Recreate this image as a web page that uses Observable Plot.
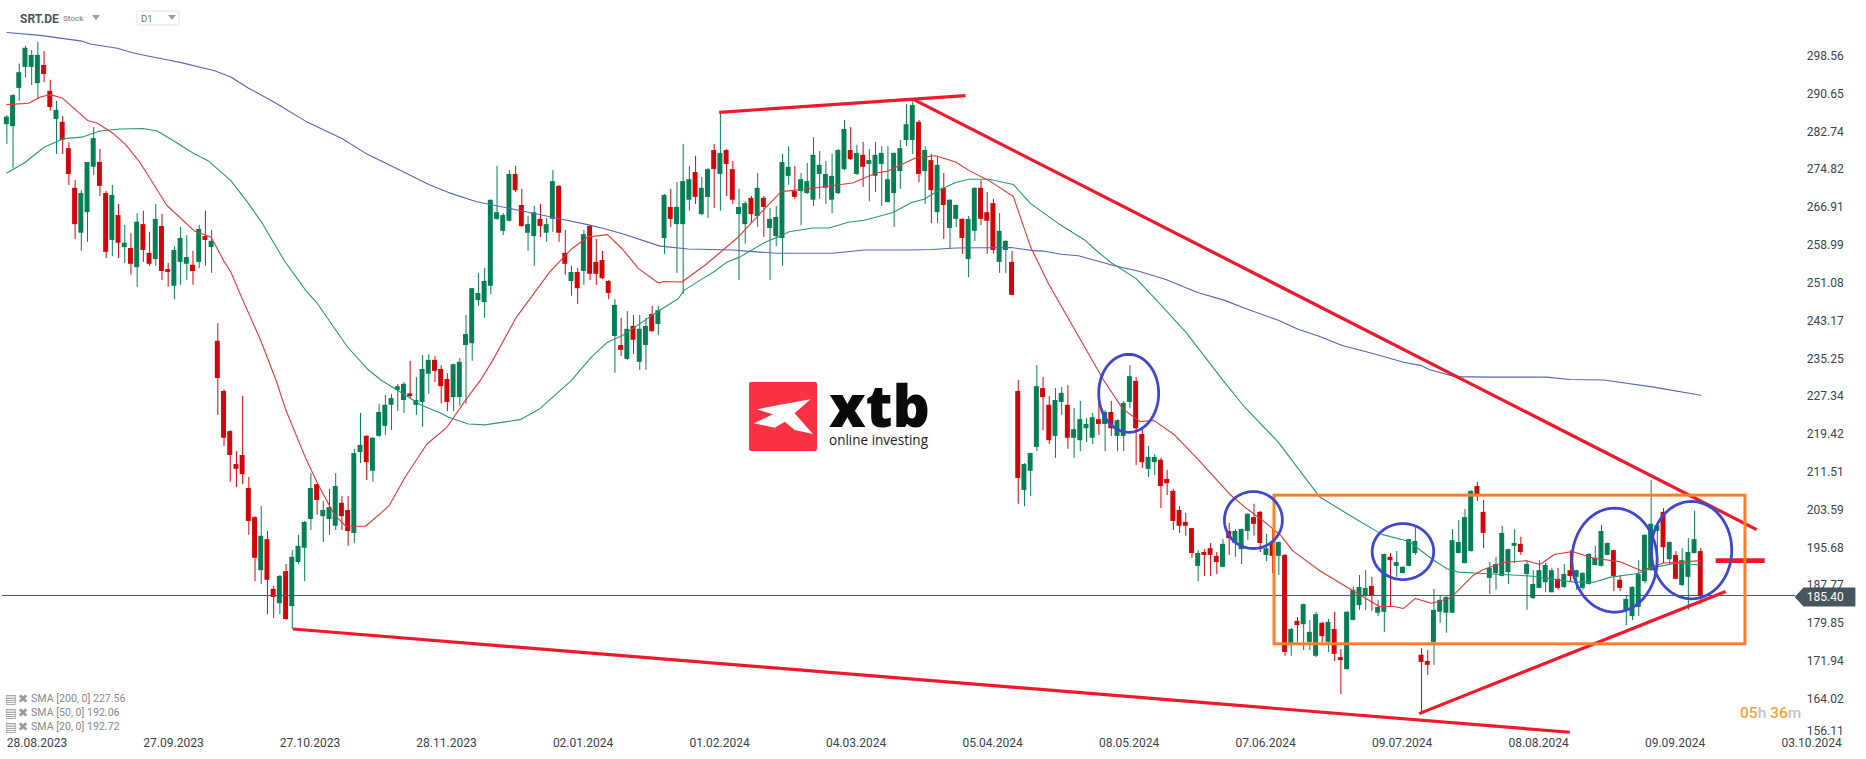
<!DOCTYPE html>
<html><head><meta charset="utf-8">
<script src="https://cdn.jsdelivr.net/npm/d3@7"></script>
<script src="https://cdn.jsdelivr.net/npm/@observablehq/plot@0.6"></script>
<style>
html,body{margin:0;padding:0;background:#fff;width:1866px;height:759px;overflow:hidden;font-family:Roboto,sans-serif}
#chart{position:absolute;left:0;top:0}
.ov{position:absolute;white-space:nowrap;line-height:1}
</style></head><body>
<div id="chart"></div>
<div class="ov" style="left:20px;top:13px;font-size:12px;font-weight:700;color:#4a5560">SRT.DE</div>
<div class="ov" style="left:63px;top:15px;font-size:8px;font-weight:500;color:#8a8f94">Stock</div>
<svg class="ov" style="left:0;top:0" width="1866" height="759">
<polygon points="92,15 100,15 96,20" fill="#9a9fa3"/>
<rect x="137" y="11" width="42" height="14" rx="2" fill="#fff" stroke="#dfe2e4"/>
<polygon points="168,15 176,15 172,20" fill="#9a9fa3"/>
<rect x="749" y="382" width="68" height="69" rx="2" fill="#fa3243"/>
<polygon points="757,409.3 778.7,405 810.5,399.3 794.6,413.3 812.9,434 794.6,430 784.7,421.7 774.8,427.7 753.7,423.3 772.8,414.3" fill="#fff"/>
</svg>
<div class="ov" id="logoName" data-w="101" style="left:829px;top:384.2px;line-height:42px;font-family:'Open Sans';font-weight:800;font-size:58px;color:#0a0a0a;transform-origin:0 0">xtb</div>
<div class="ov" id="logoTag" data-w="99" style="left:829px;top:432px;line-height:15px;font-family:'Open Sans';font-size:15px;color:#222;transform-origin:0 0">online investing</div>
<div class="ov" style="left:141px;top:14px;font-size:9.5px;color:#6a7076">D1</div>
<div class="ov" style="left:31px;top:694px;font-size:10.6px;color:#8a8a8a">SMA [200, 0] 227.56</div>
<div class="ov" style="left:31px;top:708px;font-size:10.6px;color:#8a8a8a">SMA [50, 0] 192.06</div>
<div class="ov" style="left:31px;top:722px;font-size:10.6px;color:#8a8a8a">SMA [20, 0] 192.72</div>
<div class="ov" style="left:5px;top:691px;font:12.5px 'DejaVu Sans';color:#9a9a9a;word-spacing:-3px">▤ ✖</div>
<div class="ov" style="left:5px;top:705px;font:12.5px 'DejaVu Sans';color:#9a9a9a;word-spacing:-3px">▤ ✖</div>
<div class="ov" style="left:5px;top:719px;font:12.5px 'DejaVu Sans';color:#9a9a9a;word-spacing:-3px">▤ ✖</div>
<div class="ov" style="left:1740px;top:706px;font-size:15.5px;color:#f7a13c;font-weight:500">05<span style="color:#c4c4c4">h</span> 36<span style="color:#c4c4c4">m</span></div>
<script>
// candles: [open, high, low, close]
const candlesAutumn23 = [
[284.2,286.1,280.1,285.8],[283.8,290.5,275.0,290.3],[291.8,296.9,289.1,295.1],[296.2,300.6,294.0,300.2],[296.2,299.7,292.4,298.7],[292.8,301.4,289.6,298.7],[296.6,299.5,293.0,294.7],[291.2,293.5,287.0,287.8],[285.3,289.1,278.0,287.2],[284.7,285.9,278.0,280.9],
[279.2,280.4,271.5,273.8],[270.9,272.5,260.2,263.3],[261.5,270.4,257.7,269.8],[265.8,276.3,259.6,276.3],[275.3,283.6,273.6,281.3],[276.3,279.0,269.2,271.3],[269.8,270.2,256.2,257.5],[260.0,271.5,256.6,269.4],[265.2,267.5,256.2,259.4],[258.5,263.1,255.2,259.4],
[258.3,261.4,252.7,255.0],[254.3,265.6,250.2,263.8],[263.3,266.1,255.4,257.9],[257.3,261.7,254.6,255.0],[256.0,267.5,254.6,264.4],[262.9,265.4,251.6,253.5],[253.9,255.2,250.2,253.3],[250.4,258.7,247.6,257.9],[255.4,262.7,250.6,260.4],[255.0,261.0,251.6,256.4],
[254.8,257.7,250.6,253.5],[255.4,263.1,254.1,262.3],[260.8,266.1,254.6,260.0],[258.5,262.1,253.1,259.8],[238.9,242.6,223.4,231.1],[228.4,228.7,216.9,218.6],[220.0,220.2,209.4,215.0],[213.1,215.8,208.3,212.1],[215.0,227.3,208.9,211.0],[208.1,210.4,198.3,201.2],
[202.0,202.2,188.6,193.5],[190.9,204.3,188.0,198.1],[197.4,199.1,181.7,188.9],[187.0,187.6,180.9,185.3],[184.0,189.9,181.7,189.7],[190.7,192.2,180.5,180.7],[183.4,195.1,178.6,193.7],[192.6,198.3,192.2,196.0],[195.6,201.2,188.6,201.0],[201.6,211.2,199.3,208.1]];
const candlesWinter23 = [
[208.9,209.0,202.5,205.6],[202.2,205.4,196.8,203.5],[201.6,207.9,198.3,204.1],[200.2,211.2,199.3,208.5],[205.0,206.4,199.3,202.2],[203.5,206.4,196.0,199.1],[198.7,216.3,196.6,215.4],[215.6,223.8,213.3,217.1],[219.0,219.2,209.8,213.5],[211.7,218.8,209.4,218.6],
[219.0,225.7,218.8,224.0],[221.1,227.6,219.2,225.5],[225.5,227.8,220.2,226.9],[228.6,229.9,224.2,229.4],[226.5,230.3,223.8,229.9],[227.9,234.7,226.9,227.3],[225.5,231.3,223.4,226.5],[226.1,235.9,220.9,233.0],[232.0,236.1,227.8,234.9],[234.9,235.7,230.3,232.6],
[233.0,233.8,225.8,229.4],[230.9,232.1,224.2,226.1],[227.1,234.1,224.2,234.0],[227.1,235.3,225.3,234.5],[238.0,244.3,225.7,240.3],[238.4,249.9,234.7,249.9],[247.4,253.1,246.2,248.9],[247.0,254.1,243.7,251.4],[250.4,268.4,248.7,268.4],[264.4,275.5,264.2,265.8],
[261.9,265.6,261.0,265.2],[264.0,274.6,263.8,273.8],[273.8,275.5,270.0,270.4],[267.3,270.7,262.7,262.9],[261.5,265.0,257.7,263.3],[260.8,267.1,254.6,265.8],[264.4,267.5,260.6,262.9],[261.5,264.6,259.6,263.3],[264.4,274.6,261.7,272.3],[271.3,271.5,259.6,261.5],
[257.3,262.1,252.7,255.0],[251.4,254.6,248.3,253.3],[253.3,254.1,246.6,249.9],[253.5,262.1,250.6,261.2],[262.9,263.1,251.6,252.9],[255.4,260.2,250.6,252.9],[255.8,257.7,251.8,252.0],[251.4,251.6,247.6,248.9],[239.9,247.6,232.2,246.4],[238.0,243.7,235.7,237.0]];
const candlesSpring24 = [
[235.1,245.1,234.9,241.4],[242.0,244.3,236.1,239.1],[234.5,244.3,232.8,241.4],[238.0,243.7,232.8,242.0],[244.5,246.2,240.8,240.9],[242.4,246.2,240.1,245.3],[260.4,269.6,257.1,269.4],[266.9,270.7,262.7,264.4],[263.3,272.1,253.1,266.9],[263.3,280.1,248.7,272.3],
[268.4,275.5,266.1,272.7],[274.2,277.6,267.5,269.0],[265.4,273.2,265.2,270.9],[269.0,275.0,264.6,274.8],[278.8,280.1,266.7,274.8],[273.8,286.8,266.1,278.2],[278.8,279.0,269.2,275.9],[274.8,276.5,267.5,268.4],[265.4,270.7,251.6,266.9],[263.3,268.1,259.2,267.7],
[268.8,269.2,263.5,265.4],[265.0,274.0,262.7,270.9],[268.8,269.2,260.6,266.9],[262.5,266.7,251.6,264.4],[260.8,267.1,258.7,264.8],[260.4,278.0,254.6,276.3],[273.4,279.6,271.5,275.3],[270.2,275.5,268.6,269.0],[270.2,274.0,263.1,272.7],[269.8,276.1,269.6,272.3],
[268.4,281.5,267.1,277.8],[273.8,278.6,268.6,275.7],[270.9,276.5,267.5,273.8],[268.4,278.0,265.6,273.4],[269.8,279.0,269.6,278.8],[274.8,285.1,274.6,283.2],[278.8,283.6,276.7,276.9],[273.8,279.9,273.6,278.2],[277.8,280.5,271.1,275.3],[275.9,279.0,268.1,276.7],
[273.4,280.5,270.0,277.8],[275.9,279.6,267.1,278.2],[267.9,279.6,267.9,272.7],[269.8,278.3,262.7,278.2],[274.4,280.9,270.7,279.2],[280.9,288.4,279.6,284.2],[280.9,289.3,278.0,288.2],[284.7,285.1,272.1,273.8],[274.4,279.6,267.5,278.8],[276.7,278.0,263.5,270.4],
[265.8,277.4,263.5,275.7],[270.9,274.0,260.2,267.3],[262.5,268.5,258.1,268.4],[264.4,267.4,262.7,267.3],[264.4,264.5,257.1,260.4],[256.0,265.0,252.2,264.4],[261.9,271.0,259.8,270.9],[270.9,272.5,263.1,264.4],[265.8,270.0,257.1,264.0],[267.7,268.6,257.1,257.9],
[255.4,265.6,253.1,261.9],[257.9,259.9,253.1,259.8],[255.4,257.7,248.4,248.5]];
const candlesSummer24 = [
[228.4,230.7,204.8,210.2],[207.7,213.3,204.3,213.1],[211.7,215.5,206.4,215.4],[216.7,233.8,215.8,229.4],[229.0,231.3,220.2,227.1],[225.5,227.3,217.3,218.1],[219.0,229.0,214.4,226.5],[226.1,229.2,223.4,228.0],[225.5,229.6,216.3,218.6],[218.6,224.8,214.4,220.4],
[218.1,226.3,215.8,222.5],[220.6,222.7,217.7,221.5],[218.6,223.8,217.3,222.9],[222.5,226.3,219.2,221.5],[221.5,224.4,215.8,224.0],[224.0,226.3,219.0,220.6],[219.0,222.5,215.8,222.3],[219.0,226.3,215.8,225.9],[226.1,233.8,224.8,231.5],[230.5,231.3,212.9,220.6],
[219.4,220.6,212.3,213.5],[212.1,216.9,210.4,214.6],[213.5,215.2,210.8,214.6],[214.0,214.4,203.9,208.5],[210.0,211.9,206.6,209.1],[207.5,207.9,199.3,201.2],[203.5,204.3,198.7,200.2],[201.0,202.9,198.1,200.2],[199.7,199.8,193.5,194.5],[191.8,195.1,188.6,194.5],
[194.7,195.3,189.7,194.1],[195.5,196.6,189.7,194.1],[193.9,194.7,190.1,192.6],[191.6,197.4,191.5,196.4],[199.1,200.8,194.1,197.6],[196.6,199.5,193.7,199.1],[195.3,199.6,192.2,199.5]];
const candlesLate24 = [
[199.1,202.8,197.2,202.7],[202.0,204.8,198.1,200.6],[203.1,203.3,194.7,196.6],[194.1,198.5,192.8,195.5],[196.8,199.5,190.3,193.9],[193.9,196.9,189.9,196.8],[194.1,194.3,173.0,173.8],[175.3,178.8,173.0,178.6],[180.3,181.1,175.3,179.4],[179.6,183.9,174.2,183.8],
[175.9,180.5,174.2,178.0],[173.0,182.2,172.7,181.7],[179.9,180.1,175.7,177.1],[175.9,180.7,173.8,180.1],[178.6,182.2,171.9,173.4],[172.7,174.4,165.0,172.1],[170.2,182.3,170.1,182.2],[180.5,187.4,180.4,186.8],[183.6,189.9,182.6,187.4],[185.5,190.9,182.6,187.2],
[187.6,189.5,182.4,185.5],[182.0,184.7,181.3,183.2],[182.2,194.4,178.0,194.3],[193.7,194.5,183.2,193.0],[191.8,194.9,189.5,192.6],[190.3,191.8,190.2,191.6],[191.8,197.5,191.7,197.4],[194.5,199.9,194.1,197.0],[173.2,174.6,160.8,171.7],[171.9,174.2,169.0,171.1],
[175.9,187.0,171.1,182.6],[182.2,185.5,179.9,184.7],[182.0,185.4,177.8,185.3],[182.0,199.5,181.9,197.2],[194.5,201.4,194.4,196.8],[192.4,203.7,192.3,202.0],[194.9,207.6,194.8,207.5],[208.5,209.4,205.4,206.8],[203.1,205.6,195.5,198.7],[189.3,192.6,185.9,191.4],
[190.3,193.7,186.8,192.2],[189.7,200.2,189.6,198.7],[190.5,195.4,188.0,195.3],[196.0,199.5,192.4,196.6],[196.4,197.9,194.1,194.7],[190.1,193.0,182.6,192.2],[185.1,190.9,184.9,188.0],[187.2,193.0,187.1,190.9],[188.4,192.4,186.3,192.0],[186.3,191.4,186.2,190.9],
[189.1,191.4,186.8,187.2],[187.4,192.2,187.2,190.1],[190.9,195.1,188.4,189.7],[189.5,191.0,186.8,190.9],[187.2,190.5,186.8,190.3],[188.0,194.5,187.9,194.3],[192.0,196.0,191.9,193.5],[191.8,200.4,191.7,199.1],[194.1,196.7,194.0,196.6],[195.1,195.2,186.5,189.7],
[188.9,189.9,186.5,187.2],[182.6,185.7,179.4,184.9],[181.3,187.5,180.5,187.4],[183.2,193.0,181.3,190.1],[188.6,198.4,188.2,198.3],[190.9,209.8,190.8,200.6],[199.1,200.7,193.0,200.3],[203.1,203.9,192.4,195.7],[193.2,196.9,192.0,196.8],[194.1,194.9,189.0,189.1],
[187.8,195.5,187.6,193.0],[189.5,197.6,182.6,194.7],[194.5,203.3,194.4,197.4],[194.9,195.5,183.8,185.5]];
// moving averages: [bar, price]
const sma200 = [[0,303.5],[5.4,302.9],[12.1,301.7],[13.4,301.1],[17.8,300.2],[20.1,299.3],[22.3,298.7],[25.8,297.8],[28.1,297.2],[33.5,295.5],[36.1,294.2],[38.9,291.9],[43.1,288.9],[48.2,284.9],[54,281.3],[58.1,278],[62.9,275],[68,271.7],[71.2,270],[75.7,268.1],[82.1,266.4],[88.5,264.7],[93.6,263.3],[96.2,262.5],[99.2,261.4],[105.3,258.8],[109.8,258.2],[117.1,258],[119.7,257.7],[124.1,257.3],[133.1,257.3],[138.2,258],[145.2,258],[149.1,258.1],[152.9,258.4],[161.9,258.5],[165.7,257.8],[167,257.8],[169.9,257.1],[172.7,256.8],[178.5,254.7],[182.3,253.6],[186.8,251.8],[191.9,249.1],[196.4,247.4],[199.5,245.8],[204.9,243.3],[208.1,241.4],[211.6,239.9],[215.2,238],[220,236.4],[225.1,234.5],[228,233.8],[229.2,233],[233.4,231.5],[239.1,231.4],[248.1,231.4],[251.9,230.9],[257.4,230.8],[265.4,229.3],[273,227.6]];
const sma50 = [[0,274.1],[0.9,274.8],[2.8,276.2],[6,279.5],[9.2,281.3],[12.1,281.6],[15,282.9],[18.2,283.3],[22,283.4],[24.2,282.9],[26.8,280.9],[30,278.3],[32.5,276.6],[36.1,272.5],[38.9,267.8],[41.2,263.5],[44.7,255.8],[48.2,249.5],[50.1,246.7],[54.9,237.7],[58.1,233.1],[60.4,230.7],[62.9,228.7],[66.8,225.5],[69.9,223.9],[71.2,223],[74.4,221.6],[77,221.4],[82.7,222.5],[85.9,224.8],[91,230.7],[94.2,235.6],[96.8,238.7],[99.2,240.1],[102.4,242.9],[105.6,245.7],[108.2,247.8],[109.1,249.5],[112,251.9],[113.9,253.4],[116.1,255.5],[118.1,256.5],[122.2,259.6],[124.8,261],[126.1,261.8],[129.9,262.6],[132.5,262.6],[135.6,263.8],[138.2,264.2],[142.7,265.8],[145.9,268],[147.8,268.6],[150.4,270.6],[152.9,272.1],[155.1,272.8],[158.3,272.8],[162.2,271.7],[165,267.7],[169.5,263.5],[173.7,260.1],[175.3,258.2],[177.8,255.5],[182,252],[185.2,247.6],[190,240.8],[196,230.7],[199.5,225.1],[204.9,217.8],[211.6,206.3],[216.8,202.2],[221.6,198.5],[226,197],[229.6,193.4],[232.1,191.3],[234,190.6],[237.9,190.3],[245.5,189.8],[252.6,188.5],[255.8,188.5],[258.3,189.5],[262.8,190.3],[265.4,191.6],[269.2,192.5],[273,192.1]];
const sma20 = [[0,288.4],[3.5,288.7],[5.4,290],[7,290.5],[8.9,289.8],[13,285.1],[14.6,284.5],[17.2,282.3],[19.1,280.1],[21.4,276.4],[25.8,267.3],[30.3,261.9],[32.9,260.7],[35.1,255.4],[36.1,253.4],[37.7,248.5],[40.9,239.1],[43.4,230.7],[45,224.4],[48.2,214.3],[50.1,209.1],[52.7,202.8],[54.6,200.2],[57.8,200.2],[60.4,203.1],[61.6,204.5],[64.2,210.5],[67.7,217.4],[70.9,220.9],[74.1,226.9],[76.3,230.7],[78.3,234.9],[82.1,243.9],[87.5,253.4],[91,258.2],[93.6,260.7],[96.8,261.2],[99.2,258.2],[101.8,254.1],[105,251.1],[105.9,251.4],[108.8,251.3],[112.6,254.9],[117.7,260.5],[121.6,265.9],[124.8,270.2],[129.2,270.8],[136.3,272],[140.1,274.1],[142,274.5],[146.5,277.3],[149.7,277.7],[152.9,276.4],[155.1,274.6],[158.3,272.5],[162.2,269.2],[165,258.6],[167.9,250.9],[173.7,237.7],[176.8,230.7],[179.8,224.8],[182.6,222.1],[184.9,222.3],[188.1,219.4],[191.9,214.3],[197,207],[199.5,204.2],[202.4,201.4],[205.3,198.3],[207.2,195.1],[211.6,190.9],[216.8,186.8],[221.2,183.4],[223.5,183.4],[225.1,183],[227,185.1],[229.6,184.1],[232.7,185.2],[236.3,189.9],[237.9,191.1],[241.1,192.6],[244.9,193],[247.1,192.2],[249.4,194.3],[252.3,194.9],[255.8,193.5],[259.9,192.8],[263.4,190.9],[267,192.5],[269.8,192.7],[273,193]];
// drawn annotations: [bar1, price1, bar2, price2]
const trendLines = [[114.8,286.8,154.5,290.3],[146.1,289.5,282,199.5],[46.1,178.7,251.9,157.1],[227.6,161,277,186.55]];
const targetLine = [275.4,193,283.3,193];
const rangeBox = [204.3,206.6,280.2,175.5];
// circled spots: [bar, price, bars radius, price radius]
const circled = [[180.8,228,4.83,8.16],[200.9,201.5,4.67,5.96],[225,194.9,4.96,5.86],[259.1,193.1,6.87,10.88],[271.5,195.2,6.49,10.19]];
const lastPrice = 185.40;
const xLabelBars = [0,22,44,66,88,110,132,154,176,198,220,242,264,286];
const xLabels = ["28.08.2023","27.09.2023","27.10.2023","28.11.2023","02.01.2024","01.02.2024","04.03.2024","05.04.2024","08.05.2024","07.06.2024","09.07.2024","08.08.2024","09.09.2024","03.10.2024"];
const yLabels = [298.56,290.65,282.74,274.82,266.91,258.99,251.08,243.17,235.25,227.34,219.42,211.51,203.59,195.68,187.77,179.85,171.94,164.02];
const yLabelLast = 156.11;

const GREEN="#067f57", RED="#d20608", ANN="#f0192c", INK="#3a444e";
const candles = [...candlesAutumn23,...candlesWinter23,...candlesSpring24,...candlesSummer24,...candlesLate24]
  .map(([o,h,l,c],i)=>({i,o,h,l,c,col:c>=o?GREEN:RED}));
const smaLine=(s,stroke)=>Plot.line(s,{x:d=>d[0],y:d=>d[1],stroke,strokeWidth:1.1,curve:"linear"});
const ellipses = circled.map(([cx,cy,rx,ry])=>d3.range(72).map(k=>({x:cx+rx*Math.cos(k/72*2*Math.PI),y:cy+ry*Math.sin(k/72*2*Math.PI)})));
const tagPoly=[[288.3,lastPrice],[289.6,lastPrice+1.85],[297.8,lastPrice+1.85],[297.8,lastPrice-1.85],[289.6,lastPrice-1.85]];

const plot = Plot.plot({
  width:1866,height:759,margin:0,
  x:{domain:[-1.0234,299.71],axis:null},
  y:{domain:[151.40,310.19],axis:null},
  style:{background:"transparent",fontFamily:"Roboto,sans-serif",overflow:"visible"},
  marks:[
    Plot.ruleX(candles,{x:"i",y1:"l",y2:"h",stroke:"col",strokeWidth:1}),
    Plot.rect(candles,{x1:d=>d.i-0.4,x2:d=>d.i+0.4,y1:"o",y2:"c",fill:"col"}),
    smaLine(sma200,"#5a63b8"),
    smaLine(sma50,"#2a9872"),
    smaLine(sma20,"#e5353b"),
    Plot.ruleY([lastPrice],{x1:-0.7,x2:288.3,stroke:"#4a5560",strokeWidth:1,dy:-1.5}),
    Plot.link(trendLines,{x1:d=>d[0],y1:d=>d[1],x2:d=>d[2],y2:d=>d[3],stroke:ANN,strokeWidth:3.2}),
    Plot.link([targetLine],{x1:d=>d[0],y1:d=>d[1],x2:d=>d[2],y2:d=>d[3],stroke:ANN,strokeWidth:4.6}),
    Plot.rect([rangeBox],{x1:d=>d[0],y1:d=>d[1],x2:d=>d[2],y2:d=>d[3],fill:"none",stroke:"#ff7f24",strokeWidth:3}),
    ...ellipses.map(e=>Plot.line(e,{x:"x",y:"y",curve:"linear-closed",stroke:"#3f48cc",strokeWidth:2.8})),
    Plot.line(tagPoly,{x:d=>d[0],y:d=>d[1],curve:"linear-closed",fill:"#47555f",stroke:"#47555f"}),
    Plot.text(yLabels,{y:d=>d,text:d=>d.toFixed(2),frameAnchor:"right",textAnchor:"start",dx:-59.7,fontSize:12,fill:INK}),
    Plot.text([yLabelLast],{y:d=>d,text:d=>d.toFixed(2),frameAnchor:"right",textAnchor:"start",dx:-59.7,dy:-6,fontSize:12,fill:INK}),
    Plot.text([lastPrice],{y:d=>d,text:d=>d.toFixed(2),frameAnchor:"right",textAnchor:"start",dx:-59.7,fontSize:12,fill:"#fff"}),
    Plot.text(xLabelBars,{x:d=>d,text:(d,i)=>xLabels[i],frameAnchor:"bottom",lineAnchor:"middle",textAnchor:"start",dy:-16.3,fontSize:12,fill:INK})
  ]
});
document.getElementById("chart").appendChild(plot);
for (const el of [document.getElementById("logoName"),document.getElementById("logoTag")]) {
  el.style.transform = `scaleX(${+el.dataset.w/el.getBoundingClientRect().width})`;
}
</script>
</body></html>
